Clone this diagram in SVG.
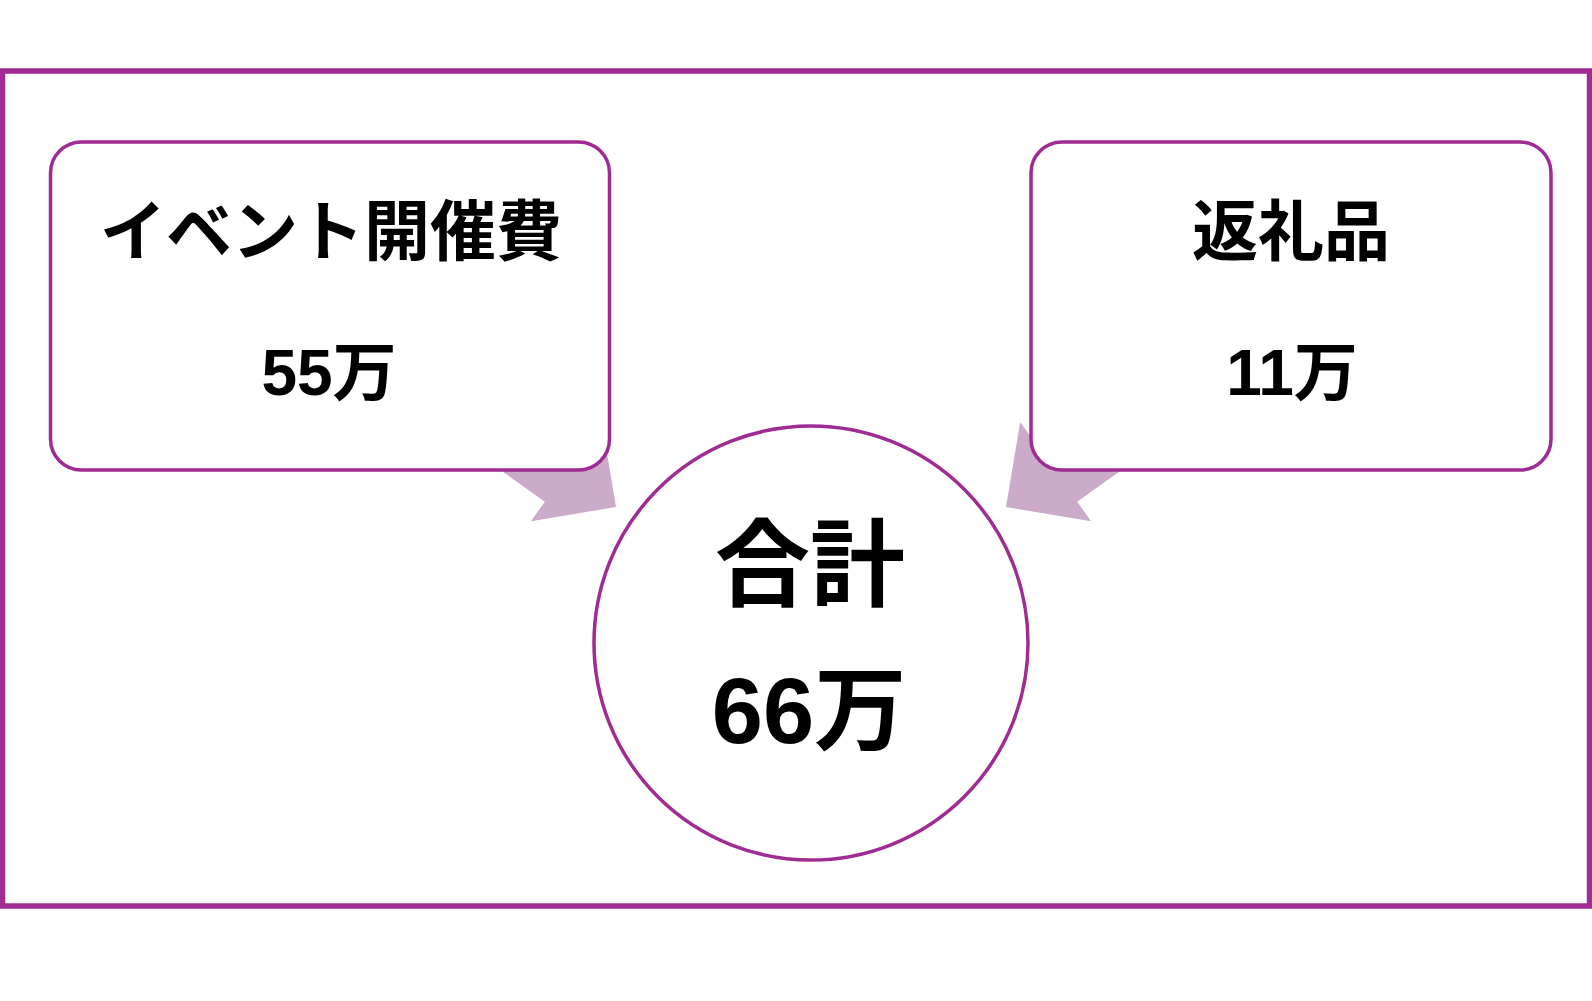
<svg xmlns="http://www.w3.org/2000/svg" width="1592" height="1001" viewBox="0 0 1592 1001">
  <style>
    .frame { fill: #ffffff; stroke: #A02B93; stroke-width: 5.5; }
    .box { fill: #ffffff; stroke: #A02B93; stroke-width: 3.5; }
    .arrow { fill: #CCAACA; stroke: none; }
    .t { font-family: "Liberation Sans", "Noto Sans CJK JP", sans-serif; font-weight: bold; fill: #000000; text-anchor: middle; }
  </style>
  <rect width="1592" height="1001" fill="#ffffff"/>
  <rect id="frame" class="frame" x="2.5" y="71" width="1587" height="835"/>
  <g id="connectors">
    <polygon class="arrow" points="616,507 530.9,521.2 544.85,501.7 391,391.9 434,331.6 587.85,441.4 601.8,421.9"/>
    <polygon class="arrow" points="1006,507 1091.1,521.2 1077.15,501.7 1231,391.9 1188,331.6 1034.15,441.4 1020.2,421.9"/>
  </g>
  <g id="event-cost">
    <rect class="box" x="50.5" y="142" width="559" height="328" rx="31" ry="31"/>
    <text class="t" x="331" y="255" font-size="66">イベント開催費</text>
    <text class="t" x="329" y="395" font-size="64">55万</text>
  </g>
  <g id="gift-cost">
    <rect class="box" x="1031" y="142" width="520" height="328" rx="31" ry="31"/>
    <text class="t" x="1291" y="255" font-size="66">返礼品</text>
    <text class="t" x="1292" y="395" font-size="64">11万</text>
  </g>
  <g id="total">
    <circle class="box" cx="811" cy="643" r="217" stroke-width="3"/>
    <text class="t" x="810" y="599" font-size="95">合計</text>
    <text class="t" x="809" y="743" font-size="92">66万</text>
  </g>
</svg>
